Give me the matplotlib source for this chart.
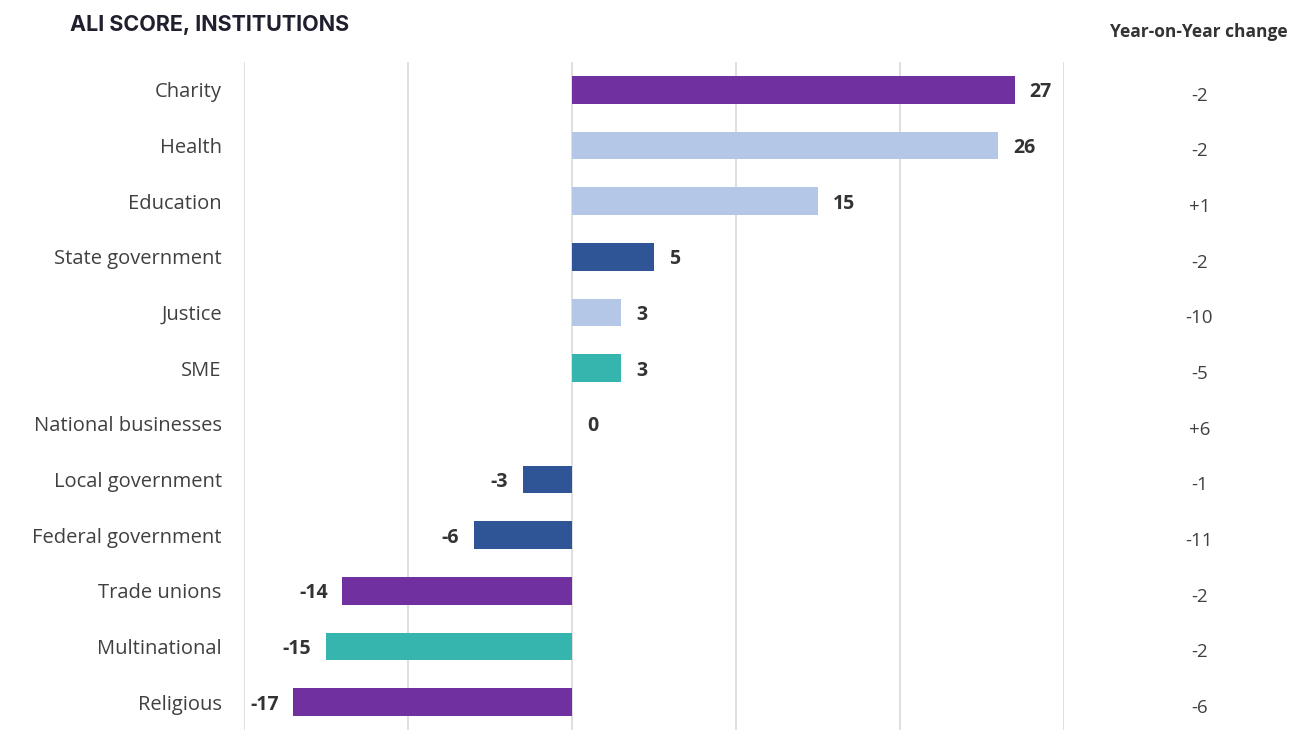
import matplotlib.pyplot as plt
import numpy as np

categories = ["Charity", "Health", "Education", "State government", "Justice", "SME",
              "National businesses", "Local government", "Federal government",
              "Trade unions", "Multinational", "Religious"]
scores = [27, 26, 15, 5, 3, 3, 0, -3, -6, -14, -15, -17]
yoy = ["-2", "-2", "+1", "-2", "-10", "-5", "+6", "-1", "-11", "-2", "-2", "-6"]

purple = "#7030A0"
light = "#B4C7E7"
dark = "#2F5597"
teal = "#36B5AE"
colors = [purple, light, light, dark, light, teal, teal, dark, dark, purple, teal, purple]

fig = plt.figure(figsize=(13.15, 7.45), dpi=100)
ax = fig.add_axes([0.1856, 0.0201, 0.6236, 0.8967])

y = np.arange(len(categories))
bars = ax.barh(y, scores, height=0.5, color=colors, zorder=3)

ax.set_xlim(-20, 30)
ax.set_ylim(len(categories) - 0.5, -0.5)
ax.set_xticks(np.arange(-20, 31, 10))
ax.grid(axis="x", color="#D9D9D9", linewidth=1.2, zorder=0)
ax.tick_params(axis="x", length=0, labelbottom=False)
ax.tick_params(axis="y", length=0, pad=16)
ax.set_yticks(y)
ax.set_yticklabels(categories, fontsize=14.5, color="#404040", family="Open Sans")
for s in ax.spines.values():
    s.set_visible(False)

for b, v in zip(bars, scores):
    yc = b.get_y() + b.get_height() / 2
    if v >= 0:
        ax.text(v + 0.9, yc, str(v), ha="left", va="center_baseline", fontsize=14,
                fontweight="bold", color="#333333", family="Open Sans")
    else:
        ax.text(v - 0.9, yc, str(v), ha="right", va="center_baseline", fontsize=14,
                fontweight="bold", color="#333333", family="Open Sans")

# year-on-year column
for i, t in enumerate(yoy):
    ax.text(1.165, i + 0.07, t, transform=ax.get_yaxis_transform(), ha="center",
            va="center_baseline", fontsize=13.5, color="#404040", family="Open Sans")

fig.text(1199 / 1315, 1 - 32 / 745, "Year-on-Year change", ha="center", va="center",
         fontsize=12.5, fontweight="bold", color="#333333", family="Open Sans")
fig.text(70 / 1315, 1 - 25 / 745, "ALI SCORE, INSTITUTIONS", ha="left", va="center",
         fontsize=15.5, fontweight="bold", color="#1F1F2E", family="Inter")

fig.savefig("out.png", dpi=100)
